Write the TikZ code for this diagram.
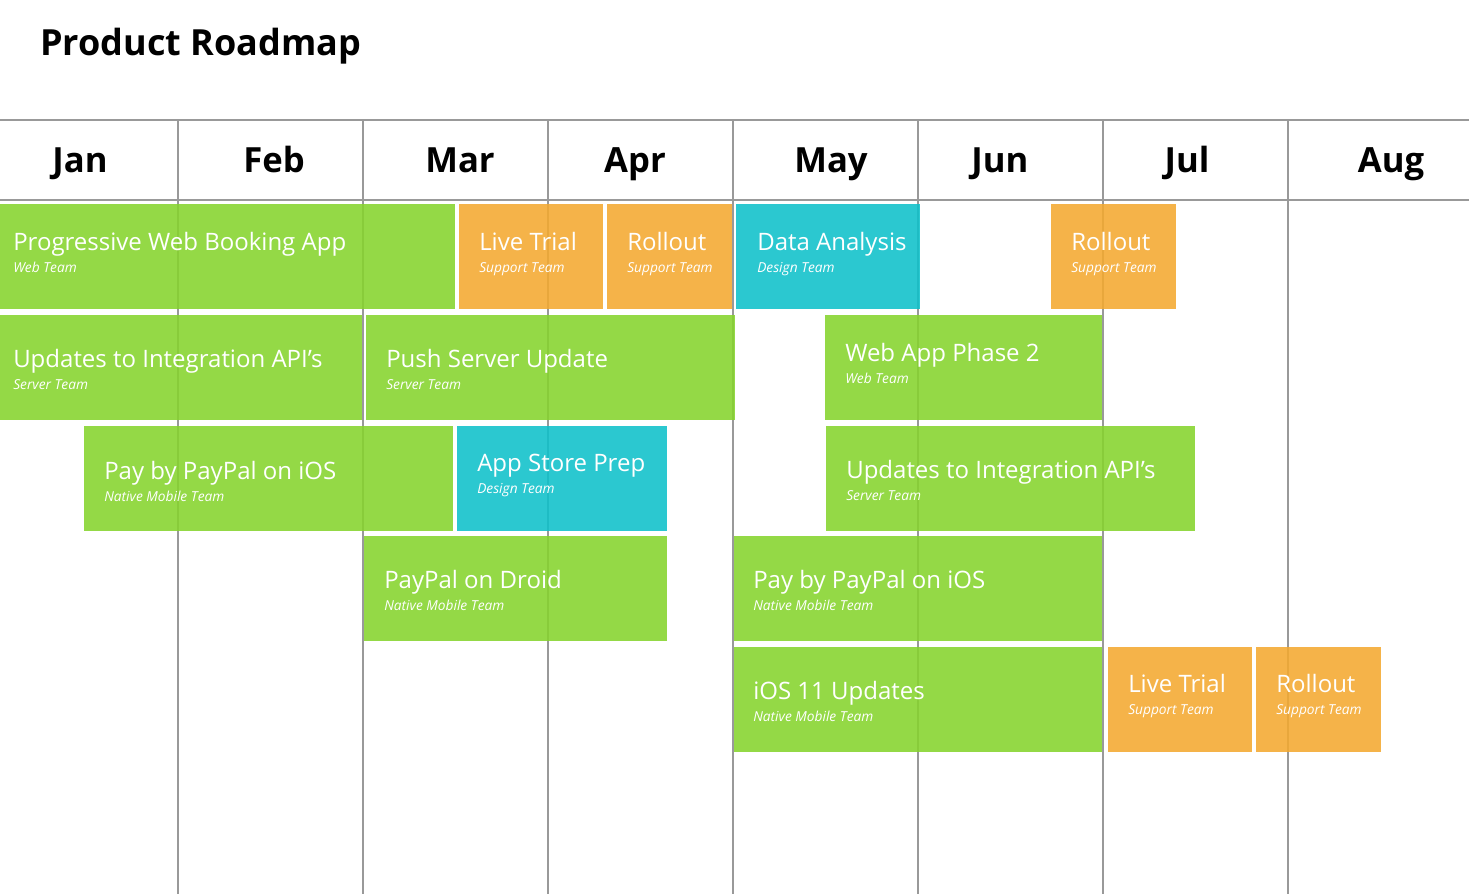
\documentclass[tikz,border=0pt]{standalone}
\usepackage{fontspec}
\setmainfont{Open Sans}
\usetikzlibrary{fit}
\definecolor{tgreen}{RGB}{134,212,45}
\definecolor{torange}{RGB}{244,169,48}
\definecolor{tcyan}{RGB}{14,193,202}
\definecolor{gridgray}{HTML}{999999}
\tikzset{
  taskbox/.style={inner sep=0pt, outer sep=0pt, draw=none, fill opacity=0.88},
  tasktitle/.style={anchor=base west, inner sep=0pt, text=white, font=\fontsize{18}{22}\selectfont},
  tasksub/.style={anchor=base west, inner sep=0pt, text=white, font=\fontsize{10.3}{12}\selectfont\itshape},
  month/.style={anchor=base, inner sep=0pt, font=\fontsize{26}{30}\selectfont\bfseries},
  headline/.style={anchor=base west, inner sep=0pt, font=\fontsize{27}{32}\selectfont\bfseries},
  gridline/.style={draw=gridgray, line width=1.1pt},
}
% name, x1, y1, x2, colour, title, subtitle, text x offset, title baseline offset
\newcommand\roadtask[9]{%
  \node[taskbox, fill=#5, fit={(#2,#3) (#4,#3+105)}] (#1) {};
  \node[tasktitle] (#1-t) at (#2+#8,#3+#9) {#6};
  \node[tasksub] (#1-s) at (#2+#8,#3+#9+22) {#7};
}
\begin{document}
\begin{tikzpicture}[x=0.75pt,y=-0.75pt]
  \useasboundingbox (0,0) rectangle (1469,894);
  \fill[white] (0,0) rectangle (1469,894);

  \node[headline] (title) at (40,55) {Product Roadmap};

  % header lines
  \coordinate (hl1) at (0,120); \coordinate (hr1) at (1469,120);
  \coordinate (hl2) at (0,200); \coordinate (hr2) at (1469,200);
  \draw[gridline] (hl1) -- (hr1);
  \draw[gridline] (hl2) -- (hr2);

  % month separators, seen through the bars
  \foreach \x in {178,363,548,733,918,1103,1288} {
    \draw[gridline] (\x,120) -- (\x,894);
  }

  % months
  \node[month] (jan) at (80,172) {Jan};
  \node[month] (feb) at (274,172) {Feb};
  \node[month] (mar) at (460,172) {Mar};
  \node[month] (apr) at (635,172) {Apr};
  \node[month] (may) at (831,172) {May};
  \node[month] (jun) at (1000,172) {Jun};
  \node[month] (jul) at (1187,172) {Jul};
  \node[month] (aug) at (1391,172) {Aug};

  % row 1
  \roadtask{pwba}{0}{204}{455}{tgreen}{Progressive Web Booking App}{Web Team}{13}{46}
  \roadtask{lt1}{459}{204}{603}{torange}{Live Trial}{Support Team}{20}{46}
  \roadtask{ro1}{607}{204}{732}{torange}{Rollout}{Support Team}{20}{46}
  \roadtask{da}{736}{204}{920}{tcyan}{Data Analysis}{Design Team}{21}{46}
  \roadtask{ro2}{1051}{204}{1176}{torange}{Rollout}{Support Team}{20}{46}
  % row 2
  \roadtask{uia1}{0}{315}{362}{tgreen}{Updates to Integration API’s}{Server Team}{13}{52}
  \roadtask{psu}{366}{315}{735}{tgreen}{Push Server Update}{Server Team}{20}{52}
  \roadtask{wap}{825}{315}{1102}{tgreen}{Web App Phase 2}{Web Team}{20}{46}
  % row 3
  \roadtask{ppi1}{84}{426}{453}{tgreen}{Pay by PayPal on iOS}{Native Mobile Team}{20}{53}
  \roadtask{asp}{457}{426}{667}{tcyan}{App Store Prep}{Design Team}{20}{45}
  \roadtask{uia2}{826}{426}{1195}{tgreen}{Updates to Integration API’s}{Server Team}{20}{52}
  % row 4
  \roadtask{ppd}{364}{536}{667}{tgreen}{PayPal on Droid}{Native Mobile Team}{20}{52}
  \roadtask{ppi2}{734}{536}{1102}{tgreen}{Pay by PayPal on iOS}{Native Mobile Team}{19}{52}
  % row 5
  \roadtask{ios}{734}{647}{1102}{tgreen}{iOS 11 Updates}{Native Mobile Team}{19}{52}
  \roadtask{lt2}{1108}{647}{1252}{torange}{Live Trial}{Support Team}{20}{45}
  \roadtask{ro3}{1256}{647}{1381}{torange}{Rollout}{Support Team}{20}{45}
\end{tikzpicture}
\end{document}
